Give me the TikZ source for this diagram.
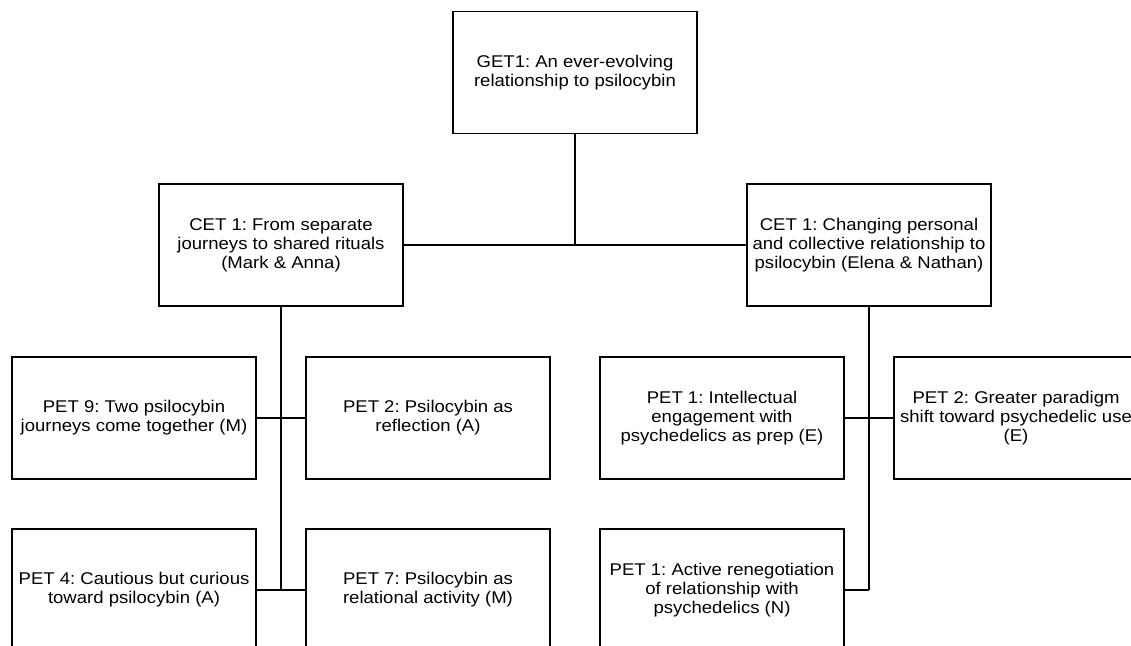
\documentclass[tikz,border=0pt]{standalone}
\usepackage{fontspec}
\setmainfont{Liberation Sans}[FakeStretch=1.09]
\begin{document}
\frenchspacing
\begin{tikzpicture}[x=1pt,y=-1pt,
  box/.style={draw, line width=1.9pt, minimum width=244pt, minimum height=122pt,
    align=center, inner sep=0pt, font=\fontsize{17}{19}\selectfont},
  link/.style={line width=1.8pt}]
\useasboundingbox (0,0) rectangle (1131,645);
\clip (0,0) rectangle (1131,645);
% top
\node[box] (get) at (575,72.5) {GET1: An ever-evolving\\relationship to psilocybin};
% middle
\node[box] (cetL) at (281,245) {CET 1: From separate\\journeys to shared rituals\\(Mark \& Anna)};
\node[box] (cetR) at (869,245) {CET 1: Changing personal\\and collective relationship to\\psilocybin (Elena \& Nathan)};
% left group
\node[box] (pet9) at (134,418) {PET 9: Two psilocybin\\journeys come together (M)};
\node[box] (pet2L) at (428,418) {PET 2: Psilocybin as\\reflection (A)};
\node[box] (pet4) at (134,590) {PET 4: Cautious but curious\\toward psilocybin (A)};
\node[box] (pet7) at (428,590) {PET 7: Psilocybin as\\relational activity (M)};
% right group
\node[box] (pet1) at (722,418) {PET 1: Intellectual\\engagement with\\psychedelics as prep (E)};
\node[box] (pet2R) at (1016,418) {PET 2: Greater paradigm\\shift toward psychedelic use\\(E)};
\node[box] (pet1N) at (722,590) {PET 1: Active renegotiation\\of relationship with\\psychedelics (N)};
% connectors
\coordinate (jTop) at (get.south |- cetL.east);
\draw[link] (get.south) -- (jTop);
\draw[link] (cetL.east) -- (cetR.west);
\coordinate (jL) at (cetL.south |- pet4.east);
\draw[link] (cetL.south) -- (jL);
\draw[link] (pet9.east) -- (pet2L.west);
\draw[link] (pet4.east) -- (pet7.west);
\coordinate (jR) at (cetR.south |- pet1N.east);
\draw[link] (cetR.south) -- (jR);
\draw[link] (pet1.east) -- (pet2R.west);
\draw[link] (pet1N.east) -- (jR);
\end{tikzpicture}
\end{document}
